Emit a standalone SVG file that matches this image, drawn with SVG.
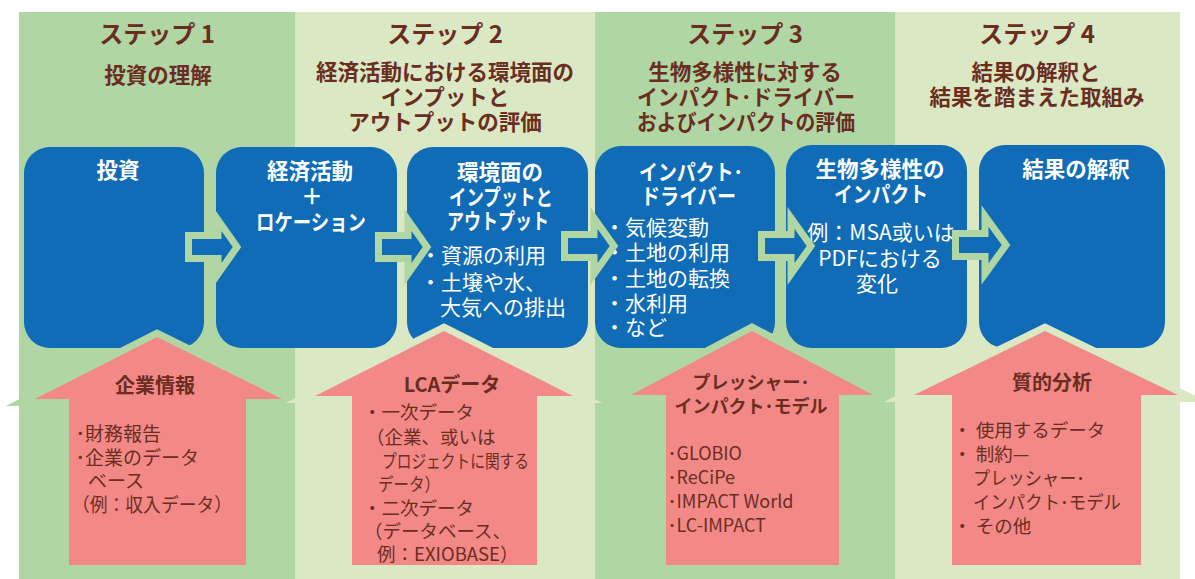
<svg xmlns="http://www.w3.org/2000/svg" width="1195" height="579" viewBox="0 0 1195 579">
<style>
.dk{fill:#b0d6a4}
.lt{fill:#dae8c4}
.hd{font-family:"Noto Sans CJK JP","Noto Sans",sans-serif;font-weight:bold;fill:#6b2d1f;text-anchor:middle}
.ttl{font-size:24px}
.sub{font-size:21.5px}
.box{fill:#106cb6}
.bt{font-family:"Noto Sans CJK JP","Noto Sans",sans-serif;fill:#ffffff;font-size:21.5px;font-weight:bold;text-anchor:middle}
.bn{font-family:"Noto Sans CJK JP","Noto Sans",sans-serif;fill:#ffffff;font-size:21px}
.bnc{text-anchor:middle}
.conn{fill:#106cb6;stroke:#b0d6a4;stroke-width:7;stroke-linejoin:miter;stroke-miterlimit:10}
.pk{fill:#f28987;stroke-width:14;stroke-linejoin:miter;stroke-miterlimit:10;paint-order:stroke}
.pkd{stroke:#b0d6a4}
.pkl{stroke:#dae8c4}
.pt{font-family:"Noto Sans CJK JP","Noto Sans",sans-serif;fill:#6b2d1f;font-weight:bold;text-anchor:middle}
.pl{font-family:"Noto Sans CJK JP","Noto Sans",sans-serif;fill:#6b2d1f}
</style>
<defs>
<clipPath id="c1"><rect x="0" y="0" width="295" height="579"/></clipPath>
<clipPath id="c3"><rect x="595" y="0" width="300" height="579"/></clipPath>
</defs>
<rect x="0" y="0" width="1195" height="579" fill="#ffffff"/>

<g id="step1">
<rect class="dk" x="19" y="12" width="276" height="567"/>
<text class="hd ttl" x="157" y="43">ステップ 1</text>
<text class="hd sub" x="158" y="83">投資の理解</text>
</g>
<g id="step2">
<rect class="lt" x="295" y="12" width="300" height="567"/>
<text class="hd ttl" x="445" y="43">ステップ 2</text>
<text class="hd sub" x="445" y="80">経済活動における環境面の</text>
<text class="hd sub" x="445" y="105">インプットと</text>
<text class="hd sub" x="445" y="130">アウトプットの評価</text>
</g>
<g id="step3">
<rect class="dk" x="595" y="12" width="300" height="567"/>
<text class="hd ttl" x="745" y="43">ステップ 3</text>
<text class="hd sub" x="745" y="80">生物多様性に対する</text>
<text class="hd sub" x="637" y="105" style="text-anchor:start" textLength="218" lengthAdjust="spacingAndGlyphs">インパクト･ドライバー</text>
<text class="hd sub" x="637" y="130" style="text-anchor:start" textLength="218" lengthAdjust="spacingAndGlyphs">およびインパクトの評価</text>
</g>
<g id="step4">
<rect class="lt" x="895" y="12" width="285" height="567"/>
<text class="hd ttl" x="1037" y="43">ステップ 4</text>
<text class="hd sub" x="1036" y="80">結果の解釈と</text>
<text class="hd sub" x="1037" y="105">結果を踏まえた取組み</text>
</g>

<g id="box1">
<rect class="box" x="24" y="147" width="180" height="201" rx="26"/>
<text class="bt" x="118" y="178">投資</text>
</g>
<g id="box2">
<rect class="box" x="216" y="147" width="181" height="201" rx="26"/>
<text class="bt" x="310" y="179">経済活動</text>
<text class="bt" x="312" y="204">＋</text>
<text class="bt" x="256" y="230" style="text-anchor:start" textLength="110" lengthAdjust="spacingAndGlyphs">ロケーション</text>
</g>
<g id="box3">
<rect class="box" x="407" y="147" width="181" height="201" rx="26"/>
<text class="bt" x="500" y="180">環境面の</text>
<text class="bt" x="449" y="205" style="text-anchor:start" textLength="104" lengthAdjust="spacingAndGlyphs">インプットと</text>
<text class="bt" x="447" y="229" style="text-anchor:start" textLength="102" lengthAdjust="spacingAndGlyphs">アウトプット</text>
<text class="bn" x="420" y="263">・資源の利用</text>
<text class="bn" x="420" y="290">・土壌や水、</text>
<text class="bn" x="440" y="315">大気への排出</text>
</g>
<g id="box4">
<rect class="box" x="595" y="146" width="180" height="202" rx="26"/>
<text class="bt" x="639" y="180" style="text-anchor:start" textLength="104" lengthAdjust="spacingAndGlyphs">インパクト･</text>
<text class="bt" x="641" y="204" style="text-anchor:start" textLength="95" lengthAdjust="spacingAndGlyphs">ドライバー</text>
<text class="bn" x="604" y="235">・気候変動</text>
<text class="bn" x="604" y="260">・土地の利用</text>
<text class="bn" x="604" y="286">・土地の転換</text>
<text class="bn" x="604" y="311">・水利用</text>
<text class="bn" x="604" y="335">・など</text>
</g>
<g id="box5">
<rect class="box" x="786" y="145" width="181" height="203" rx="26"/>
<text class="bt" x="880" y="177">生物多様性の</text>
<text class="bt" x="834" y="202" style="text-anchor:start" textLength="94" lengthAdjust="spacingAndGlyphs">インパクト</text>
<text class="bn bnc" x="881" y="240">例：MSA或いは</text>
<text class="bn bnc" x="880" y="266">PDFにおける</text>
<text class="bn bnc" x="877" y="291">変化</text>
</g>
<g id="box6">
<rect class="box" x="979" y="145" width="186" height="203" rx="26"/>
<text class="bt" x="1076" y="177">結果の解釈</text>
</g>

<g id="connectors">
<path class="conn" d="M188.5,235.5 H218 V220 L237,247 L218,274 V258.5 H188.5 Z"/>
<path class="conn" d="M378.5,235.5 H408 V220 L427,247 L408,274 V258.5 H378.5 Z"/>
<path class="conn" d="M564.5,234.5 H594 V218 L614,246 L594,274 V257.5 H564.5 Z"/>
<path class="conn" d="M761.5,234.5 H791 V218 L811,246 L791,274 V257.5 H761.5 Z"/>
<path class="conn" d="M955.5,233.5 H985 V216 L1006,245 L985,274 V256.5 H955.5 Z"/>
</g>

<g id="input1">
<path class="pk pkd" clip-path="url(#c1)" d="M157,337 L282,399 H246 V565 H69 V399 H35 Z"/>
<text class="pt" x="155" y="393" font-size="20">企業情報</text>
<text class="pl" font-size="19" x="75.5" y="441">･財務報告</text>
<text class="pl" font-size="19" x="75.5" y="465">･企業のデータ</text>
<text class="pl" font-size="19" x="88" y="488">ベース</text>
<text class="pl" font-size="19" x="72" y="512" textLength="160" lengthAdjust="spacingAndGlyphs">（例：収入データ）</text>
</g>
<g id="input3">
<path class="pk pkd" clip-path="url(#c3)" d="M752,331 L873,395 H839 V565 H666 V395 H631 Z"/>
<text class="pt" x="751" y="389" font-size="18">プレッシャー･</text>
<text class="pt" x="751" y="413" font-size="18">インパクト･モデル</text>
<text class="pl" font-size="18" x="667.5" y="460">･GLOBIO</text>
<text class="pl" font-size="18" x="667.5" y="484">･ReCiPe</text>
<text class="pl" font-size="18" x="667.5" y="508">･IMPACT World</text>
<text class="pl" font-size="18" x="667.5" y="532">･LC-IMPACT</text>
</g>
<g id="input2">
<path class="pk pkl" d="M444,331 L573,396 H537 V565 H352 V396 H315 Z"/>
<text class="pt" x="452" y="392" font-size="20">LCAデータ</text>
<text class="pl" font-size="18.5" x="363" y="419">・一次データ</text>
<text class="pl" font-size="18.5" x="366" y="444">（企業、或いは</text>
<text class="pl" font-size="18.5" x="382" y="468" textLength="147" lengthAdjust="spacingAndGlyphs">プロジェクトに関する</text>
<text class="pl" font-size="18.5" x="378" y="491" textLength="62" lengthAdjust="spacingAndGlyphs">データ）</text>
<text class="pl" font-size="18.5" x="363" y="515">・二次データ</text>
<text class="pl" font-size="18.5" x="364" y="538">（データベース、</text>
<text class="pl" font-size="18.5" x="377" y="561">例：EXIOBASE）</text>
</g>
<g id="input4">
<path class="pk pkl" d="M1045,331 L1178,395 H1141 V565 H952 V395 H914 Z"/>
<text class="pt" x="1052" y="390" font-size="20">質的分析</text>
<text class="pl" font-size="18.5" x="953" y="437">・ 使用するデータ</text>
<text class="pl" font-size="18.5" x="953" y="461">・ 制約—</text>
<text class="pl" font-size="18.5" x="973" y="485" textLength="112" lengthAdjust="spacingAndGlyphs">プレッシャー･</text>
<text class="pl" font-size="18.5" x="973" y="509" textLength="148" lengthAdjust="spacingAndGlyphs">インパクト･モデル</text>
<text class="pl" font-size="18.5" x="953" y="533">・ その他</text>
</g>
</svg>
